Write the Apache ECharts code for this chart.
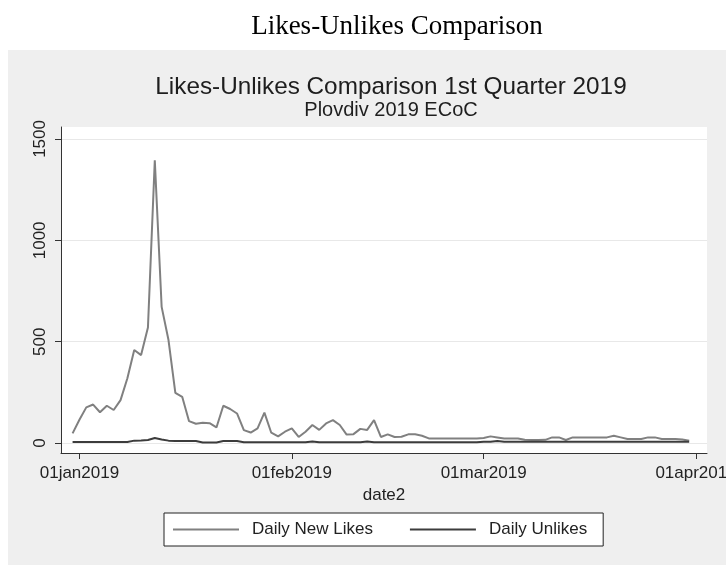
<!DOCTYPE html>
<html>
<head>
<meta charset="utf-8">
<script src="https://cdn.jsdelivr.net/npm/echarts@6/dist/echarts.min.js"></script>
<style>html,body{margin:0;padding:0;background:#fff;}#c{width:726px;height:565px;}</style>
</head>
<body>
<div id="c"></div>
<script>
// Days counted from 01jan2019; first observation is 31dec2018 (day -1)
const firstDay = -1;
const dailyNewLikes = [48,115,176,190,152,184,163,212,320,459,434,570,1395,672,508,248,228,108,95,100,98,77,184,168,146,64,52,72,150,51,33,56,72,30,56,89,65,97,113,89,42,44,70,65,113,30,43,30,31,43,43,36,23,23,23,23,23,23,23,23,25,33,28,23,23,23,16,15,15,16,28,28,15,28,28,28,28,28,28,36,28,20,20,20,28,28,20,20,20,18,11];
const dailyUnlikes = [5,5,5,5,5,5,5,5,5,12,13,15,25,18,12,10,10,10,10,3,3,3,10,10,10,4,4,4,4,4,4,4,4,4,4,8,4,4,4,4,4,4,4,8,4,4,4,4,4,4,4,4,4,4,4,4,4,4,4,4,6,6,10,7,7,7,7,7,7,7,7,7,7,7,7,7,7,7,7,7,7,7,7,7,7,7,7,7,7,7,7];
const xTickDays = [0,31,59,90];
const xTickLabels = ['01jan2019','01feb2019','01mar2019','01apr2019'];
const yTicks = [0,500,1000,1500];

const likesData = dailyNewLikes.map((v,i)=>[firstDay+i, v]);
const unlikesData = dailyUnlikes.map((v,i)=>[firstDay+i, v]);

const FONT = 'Liberation Sans';
const chart = echarts.init(document.getElementById('c'), null, {renderer:'canvas'});
chart.setOption({
  animation: false,
  backgroundColor: '#fff',
  graphic: [
    {type:'rect', z:-100, shape:{x:8,y:50,width:718,height:515}, style:{fill:'#efefef'}},
    {type:'text', x:397, y:27, style:{text:'Likes-Unlikes Comparison', font:'27px "Liberation Serif"', fill:'#000', align:'center', verticalAlign:'middle', textAlign:'center', textVerticalAlign:'middle'}},
    {type:'text', x:391, y:87, style:{text:'Likes-Unlikes Comparison 1st Quarter 2019', font:'24.3px "Liberation Sans"', fill:'#1e1e1e', align:'center', verticalAlign:'middle', textAlign:'center', textVerticalAlign:'middle'}},
    {type:'text', x:391, y:110, style:{text:'Plovdiv 2019 ECoC', font:'20px "Liberation Sans"', fill:'#1e1e1e', align:'center', verticalAlign:'middle', textAlign:'center', textVerticalAlign:'middle'}}
  ],
  grid: {left:61, right:19, top:127, bottom:112, show:true, backgroundColor:'#fff', borderWidth:0, outerBoundsMode:'none', containLabel:false},
  xAxis: {
    type:'value', min:-2.69, max:91.6,
    axisLine:{show:true, onZero:false, lineStyle:{color:'#333', width:1}},
    axisTick:{show:true, customValues:xTickDays, length:6, lineStyle:{color:'#333'}},
    axisLabel:{customValues:xTickDays, formatter:(v)=>xTickLabels[xTickDays.indexOf(v)], fontSize:17, fontFamily:FONT, color:'#222', margin:12, hideOverlap:false},
    splitLine:{show:false},
    name:'date2', nameLocation:'middle', nameGap:33,
    nameTextStyle:{fontSize:17, fontFamily:FONT, color:'#222'}
  },
  yAxis: {
    type:'value', min:-49, max:1559,
    axisLine:{show:true, onZero:false, lineStyle:{color:'#333', width:1}},
    axisTick:{show:true, customValues:yTicks, length:6, lineStyle:{color:'#333'}},
    axisLabel:{customValues:yTicks, rotate:90, formatter:(v)=>String(v), fontSize:17, fontFamily:FONT, color:'#222', margin:12},
    splitLine:{show:true, lineStyle:{color:'#e8e8e8', width:1}}
  },
  legend: {
    left:164, top:513, orient:'horizontal',
    padding:[8,16,8,9], itemWidth:66, itemHeight:2, itemGap:37, icon:'rect',
    backgroundColor:'#fff', borderColor:'#222', borderWidth:1,
    textStyle:{fontSize:17, fontFamily:FONT, color:'#222', padding:[0,0,0,8]},
    data:['Daily New Likes','Daily Unlikes']
  },
  series: [
    {name:'Daily New Likes', type:'line', data:likesData, symbol:'none', lineStyle:{color:'#808080', width:2}, itemStyle:{color:'#808080'}},
    {name:'Daily Unlikes', type:'line', data:unlikesData, symbol:'none', lineStyle:{color:'#3c3c3c', width:2}, itemStyle:{color:'#3c3c3c'}}
  ]
});
</script>
</body>
</html>
